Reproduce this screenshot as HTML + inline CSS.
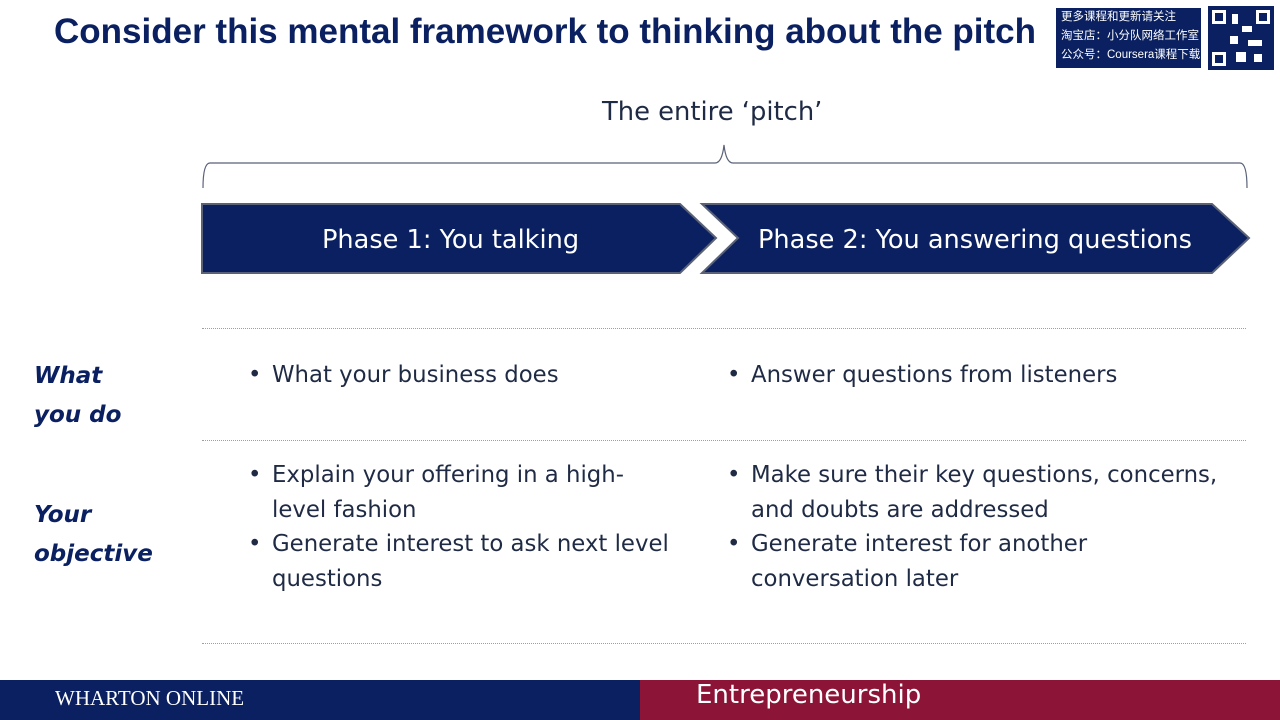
<!DOCTYPE html>
<html><head><meta charset="utf-8"><style>
body{margin:0;width:1280px;height:720px;position:relative;background:#fff;font-family:"Liberation Sans","Noto Sans CJK SC",sans-serif;overflow:hidden}
.t{position:absolute;white-space:nowrap}
.c{font-family:"DejaVu Sans","Liberation Sans",sans-serif;color:#1f2a44}
.lbl{font-family:"DejaVu Sans",sans-serif;font-weight:bold;font-style:italic;color:#0a2060;font-size:23px;line-height:39px}
.dot{position:absolute;left:202px;width:1044px;border-top:1px dotted #9aa0aa}
.b{position:absolute;left:-24px}
</style></head><body>
<div class="t" style="left:54px;top:12px;font-size:35px;font-weight:bold;color:#0a2060">Consider this mental framework to thinking about the pitch</div>
<div class="t" style="left:1056px;top:8px;width:145px;height:60px;background:#0a2060;color:#fff;font-size:11.5px;line-height:19px;padding-left:5px;box-sizing:border-box">更多课程和更新请关注<br>淘宝店：小分队网络工作室<br>公众号：Coursera课程下载</div>
<svg style="position:absolute;left:1208px;top:6px" width="66" height="64"><rect width="66" height="64" fill="#0a2060"/><g fill="#fff"><rect x="4" y="4" width="14" height="14"/><rect x="48" y="4" width="14" height="14"/><rect x="4" y="46" width="14" height="14"/><rect x="24" y="8" width="6" height="10"/><rect x="34" y="20" width="10" height="6"/><rect x="22" y="30" width="8" height="8"/><rect x="40" y="34" width="14" height="6"/><rect x="28" y="46" width="10" height="10"/><rect x="46" y="48" width="8" height="8"/></g><g fill="#0a2060"><rect x="7" y="7" width="8" height="8"/><rect x="51" y="7" width="8" height="8"/><rect x="7" y="49" width="8" height="8"/></g></svg>
<div class="t c" style="left:602px;top:97px;font-size:25.8px">The entire ‘pitch’</div>
<svg style="position:absolute;left:0;top:0" width="1280" height="200"><path d="M203 188 Q203 163 210 163 L715 163 Q722 163 724 145 Q726 163 733 163 L1240 163 Q1247 163 1247 188" fill="none" stroke="#5a6278" stroke-width="1.2"/></svg>
<svg style="position:absolute;left:0;top:0" width="1280" height="290">
<polygon points="202,204 680,204 716,238 680,273 202,273" fill="#0a2060" stroke="#5a6278" stroke-width="2"/>
<polygon points="702,204 1212,204 1249,238 1212,273 702,273 738,238" fill="#0a2060" stroke="#5a6278" stroke-width="2"/>
</svg>
<div class="t" style="left:322px;top:225px;font-size:25.6px;color:#fff;font-family:'DejaVu Sans',sans-serif">Phase 1: You talking</div>
<div class="t" style="left:758px;top:225px;font-size:25.6px;color:#fff;font-family:'DejaVu Sans',sans-serif">Phase 2: You answering questions</div>
<div class="dot" style="top:328px"></div>
<div class="dot" style="top:440px"></div>
<div class="dot" style="top:643px"></div>
<div class="t lbl" style="left:34px;top:357px">What<br>you do</div>
<div class="t lbl" style="left:34px;top:496px">Your<br>objective</div>
<div class="t c" style="left:272px;top:358px;font-size:22.8px;line-height:34px"><span class="b">•</span>What your business does</div>
<div class="t c" style="left:751px;top:358px;font-size:22.8px;line-height:34px"><span class="b">•</span>Answer questions from listeners</div>
<div class="t c" style="left:272px;top:458px;font-size:22.8px;line-height:34.5px"><span class="b">•</span>Explain your offering in a high-<br>level fashion<br><span class="b" style="top:69px">•</span>Generate interest to ask next level<br>questions</div>
<div class="t c" style="left:751px;top:458px;font-size:22.8px;line-height:34.5px"><span class="b">•</span>Make sure their key questions, concerns,<br>and doubts are addressed<br><span class="b" style="top:69px">•</span>Generate interest for another<br>conversation later</div>
<div style="position:absolute;left:0;top:680px;width:640px;height:40px;background:#0a2060"></div>
<div style="position:absolute;left:640px;top:680px;width:640px;height:40px;background:#8c1436"></div>
<div class="t" style="left:55px;top:686px;font-size:21px;color:#fff;font-family:'Liberation Serif',serif">WHARTON ONLINE</div>
<div class="t" style="left:696px;top:680px;font-size:26px;color:#fff;font-family:'DejaVu Sans',sans-serif">Entrepreneurship</div>
</body></html>
